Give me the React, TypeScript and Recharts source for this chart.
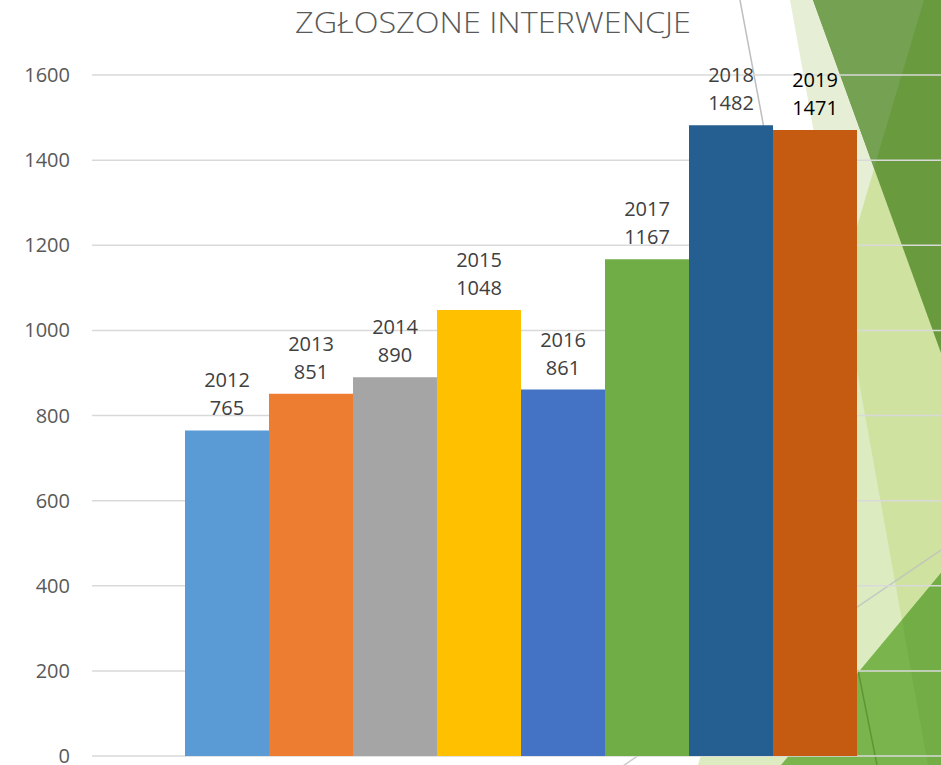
import { BarChart, Bar, XAxis, YAxis, CartesianGrid, Cell, LabelList } from 'recharts';

const years = ['2012', '2013', '2014', '2015', '2016', '2017', '2018', '2019'];
const counts = [765, 851, 890, 1048, 861, 1167, 1482, 1471];
const yTicks = [0, 200, 400, 600, 800, 1000, 1200, 1400, 1600];

const COLORS = ['#5b9bd5', '#ed7d31', '#a5a5a5', '#ffc000', '#4472c4', '#70ad47', '#255e91', '#c55a11'];
const LABEL_COLORS = ['#404040', '#404040', '#404040', '#404040', '#404040', '#404040', '#404040', '#000000'];

const FONT = '"Open Sans", "Noto Sans", sans-serif';

const data = years.map((year, i) => ({ year, count: counts[i] }));

// two-line label above each bar: year, then value
function renderLabel(props: any) {
  const { x, y, width, index } = props;
  const cx = Number(x) + Number(width) / 2;
  const top = Number(y);
  return (
    <text textAnchor="middle" fontFamily={FONT} fontSize={20} fill={LABEL_COLORS[index]}>
      <tspan x={cx} y={top - 43}>{years[index]}</tspan>
      <tspan x={cx} y={top - 15}>{counts[index]}</tspan>
    </text>
  );
}

// slide theme decoration behind the chart
function Backdrop() {
  return (
    <svg width={941} height={765} style={{ position: 'absolute', left: 0, top: 0 }}>
      <polygon points="790,0 941,0 941,765 928,765" fill="#e6efd6" />
      <polygon points="924,0 941,0 941,765 698,765" fill="#dcebc0" />
      <polygon points="841,281 924,0 941,0 941,765 928,765" fill="#cfe2a0" />
      <polygon points="813,0 941,0 941,353" fill="#699a3e" />
      <polygon points="813,0 924,0 874,168" fill="#74a152" />
      <polygon points="941,573 781,765 941,765" fill="#7ab44c" />
      <polygon points="941,573 902,620 928,765 941,765" fill="#72ad45" />
      <line x1={858} y1={670} x2={877} y2={765} stroke="#5e9636" strokeWidth={1.5} />
      <line x1={740} y1={0} x2={790} y2={267} stroke="#bfbfbf" strokeWidth={1.5} />
      <line x1={617} y1={770} x2={941} y2={550} stroke="#bfbfbf" strokeOpacity={0.8} strokeWidth={1.5} />
      <text
        x={493}
        y={33}
        textAnchor="middle"
        fontFamily={FONT}
        fontWeight={300}
        fontSize={29}
        fill="#595959"
        textLength={396}
        lengthAdjust="spacingAndGlyphs"
      >
        ZGŁOSZONE INTERWENCJE
      </text>
    </svg>
  );
}

export default function App() {
  return (
    <div
      style={{
        position: 'absolute',
        left: 0,
        top: 0,
        width: 941,
        height: 765,
        overflow: 'hidden',
        background: '#ffffff',
      }}
    >
      <Backdrop />
      <div style={{ position: 'absolute', left: 0, top: 0 }}>
        <BarChart
          width={960}
          height={765}
          data={data}
          margin={{ top: 75, right: 10, bottom: 9, left: 0 }}
          barCategoryGap={0}
        >
          <CartesianGrid vertical={false} stroke="#d9d9d9" strokeWidth={1.5} />
          <XAxis dataKey="year" hide padding={{ left: 93, right: 93 }} />
          <YAxis
            domain={[0, 1600]}
            ticks={yTicks}
            interval={0}
            axisLine={false}
            tickLine={false}
            width={92}
            tickMargin={16}
            tick={{ fill: '#595959', fontSize: 20, fontFamily: FONT }}
          />
          <Bar dataKey="count" isAnimationActive={false}>
            {data.map((entry, index) => (
              <Cell key={`cell-${index}`} fill={COLORS[index % COLORS.length]} />
            ))}
            <LabelList dataKey="count" content={renderLabel} />
          </Bar>
        </BarChart>
      </div>
    </div>
  );
}
